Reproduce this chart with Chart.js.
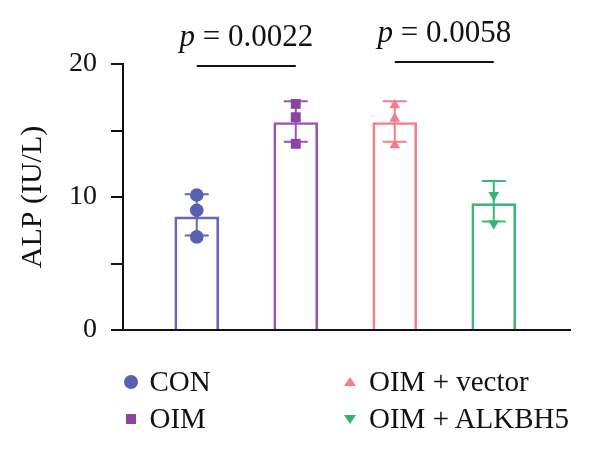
<!DOCTYPE html>
<html lang="en">
<head>
<meta charset="UTF-8">
<title>ALP (IU/L)</title>
<style>
    body {
        margin: 0;
        padding: 0;
        background: #fff;
        font-family: "Liberation Serif", "DejaVu Serif", serif;
    }

    .wrap {
        position: relative;
        width: 600px;
        height: 449px;
    }

    #chart {
        position: absolute;
        left: 0;
        top: 0;
    }

    .legend-text {
        position: absolute;
        font-size: 29px;
        line-height: 34px;
        color: #111;
        white-space: nowrap;
    }

    .legend-mark {
        position: absolute;
    }
</style>
</head>
<body>
<div class="wrap" id="wrap">
    <canvas id="chart" width="600" height="449"></canvas>
</div>

<script src="https://cdn.jsdelivr.net/npm/chart.js"></script>
<script>
    // data
    const groups = ["CON", "OIM", "OIM + vector", "OIM + ALKBH5"];
    const means = [8.5, 15.6, 15.6, 9.5];
    const errLow = [7.1, 14.15, 14.15, 8.15];
    const errHigh = [10.2, 17.2, 17.2, 11.2];
    const points = [
        [10.15, 9.0, 7.0],
        [17.0, 16.0, 14.0],
        [16.9, 15.9, 13.9],
        [10.15, 8.0]
    ];
    const yTicks = [0, 10, 20];
    const pairs = [[0, 1], [2, 3]];
    const pValues = ["0.0022", "0.0058"];
    const pairLineY = [19.85, 20.15];

    const lineColors = ["#6267bb", "#9a53b3", "#f17f8b", "#3bb77a"];
    const markColors = ["#5860b2", "#8d439f", "#f27e88", "#2fb574"];
    const pointStyles = ["circle", "rect", "triangle", "triangle"];
    const pointRot = [0, 0, 0, 180];
    const pointRad = [6.8, 7, 6.2, 6.2];

    const FONT = '"Liberation Serif", "DejaVu Serif", serif';

    const errorBars = {
        id: "errorBars",
        afterDatasetDraw(chart, args) {
            if (args.meta.type !== "bar") return;
            const ctx = chart.ctx;
            const x = chart.scales.x, y = chart.scales.y;
            ctx.save();
            ctx.lineWidth = 2;
            groups.forEach((g, i) => {
                const px = x.getPixelForValue(i);
                const top = y.getPixelForValue(errHigh[i]);
                const bot = y.getPixelForValue(errLow[i]);
                ctx.strokeStyle = lineColors[i];
                ctx.beginPath();
                ctx.moveTo(px, top); ctx.lineTo(px, bot);
                ctx.moveTo(px - 12, top); ctx.lineTo(px + 12, top);
                ctx.moveTo(px - 12, bot); ctx.lineTo(px + 12, bot);
                ctx.stroke();
            });
            ctx.restore();
        }
    };

    const pLabels = {
        id: "pLabels",
        afterDraw(chart) {
            const ctx = chart.ctx;
            const x = chart.scales.x, y = chart.scales.y;
            ctx.save();
            pairs.forEach((p, k) => {
                const x1 = x.getPixelForValue(p[0]);
                const x2 = x.getPixelForValue(p[1]);
                const ly = y.getPixelForValue(pairLineY[k]);
                ctx.strokeStyle = "#111";
                ctx.lineWidth = 2;
                ctx.beginPath();
                ctx.moveTo(x1, ly); ctx.lineTo(x2, ly);
                ctx.stroke();

                const a = "p";
                const b = " = " + pValues[k];
                ctx.font = "italic 31px " + FONT;
                const wa = ctx.measureText(a).width;
                ctx.font = "31px " + FONT;
                const wb = ctx.measureText(b).width;
                const sx = (x1 + x2) / 2 - (wa + wb) / 2;
                ctx.fillStyle = "#111";
                ctx.textBaseline = "alphabetic";
                ctx.textAlign = "left";
                ctx.font = "italic 31px " + FONT;
                ctx.fillText(a, sx, ly - 20);
                ctx.font = "31px " + FONT;
                ctx.fillText(b, sx + wa, ly - 20);
            });
            ctx.restore();
        }
    };

    const datasets = groups.map((g, i) => ({
        type: "scatter",
        label: g,
        order: 1,
        data: points[i].map(v => ({ x: i, y: v })),
        pointStyle: pointStyles[i],
        rotation: pointRot[i],
        radius: pointRad[i],
        backgroundColor: markColors[i],
        borderColor: markColors[i],
        borderWidth: 0
    }));

    datasets.push({
        type: "bar",
        label: "mean",
        order: 2,
        data: means.map((v, i) => ({ x: i, y: v })),
        backgroundColor: "rgba(255,255,255,0)",
        borderColor: lineColors,
        borderWidth: 2,
        barThickness: 44
    });

    new Chart(document.getElementById("chart"), {
        data: { datasets: datasets },
        options: {
            responsive: false,
            animation: false,
            layout: { padding: { top: 64, right: 30, bottom: 119, left: 0 } },
            plugins: {
                legend: { display: false },
                tooltip: { enabled: false }
            },
            scales: {
                x: {
                    type: "linear",
                    min: -0.745,
                    max: 3.77,
                    offset: false,
                    bounds: "data",
                    ticks: { display: false },
                    grid: { display: false, offset: false },
                    border: { display: true, color: "#111", width: 2 },
                    afterFit(scale) { scale.height = 0; }
                },
                y: {
                    min: 0,
                    max: 20,
                    afterBuildTicks(scale) {
                        scale.ticks = [0, 5, 10, 15, 20].map(v => ({ value: v }));
                    },
                    ticks: {
                        padding: 14,
                        color: "#111",
                        font: { family: FONT, size: 28 },
                        callback: v => yTicks.includes(v) ? v : ""
                    },
                    grid: {
                        display: true,
                        drawOnChartArea: false,
                        drawTicks: true,
                        tickLength: 12,
                        color: "#111",
                        lineWidth: 2
                    },
                    border: { display: true, color: "#111", width: 2 },
                    title: {
                        display: true,
                        text: "ALP (IU/L)",
                        color: "#111",
                        font: { family: FONT, size: 30 },
                        padding: { top: 15, bottom: 0 }
                    },
                    afterFit(scale) { scale.width = 123; }
                }
            }
        },
        plugins: [errorBars, pLabels]
    });

    // legend, two columns
    const legendPos = [[130.5, 381.5], [130.5, 419], [350, 381.5], [350, 419]];
    const wrap = document.getElementById("wrap");
    groups.forEach((g, i) => {
        const [cx, cy] = legendPos[i];
        const mk = document.createElement("div");
        mk.className = "legend-mark";
        const c = markColors[i];
        if (pointStyles[i] === "circle") {
            Object.assign(mk.style, { width: "14px", height: "14px", borderRadius: "50%", background: c, left: (cx - 7) + "px", top: (cy - 7) + "px" });
        } else if (pointStyles[i] === "rect") {
            Object.assign(mk.style, { width: "10px", height: "10px", background: c, left: (cx - 5) + "px", top: (cy - 5) + "px" });
        } else {
            const up = pointRot[i] === 0;
            Object.assign(mk.style, {
                width: 0, height: 0,
                borderLeft: "6px solid transparent",
                borderRight: "6px solid transparent",
                left: (cx - 6) + "px", top: (cy - 4.5) + "px"
            });
            if (up) mk.style.borderBottom = "9px solid " + c;
            else mk.style.borderTop = "9px solid " + c;
        }
        wrap.appendChild(mk);

        const t = document.createElement("div");
        t.className = "legend-text";
        t.textContent = g;
        t.style.left = (cx + 19) + "px";
        t.style.top = (cy - 18) + "px";
        wrap.appendChild(t);
    });
</script>
</body>
</html>
